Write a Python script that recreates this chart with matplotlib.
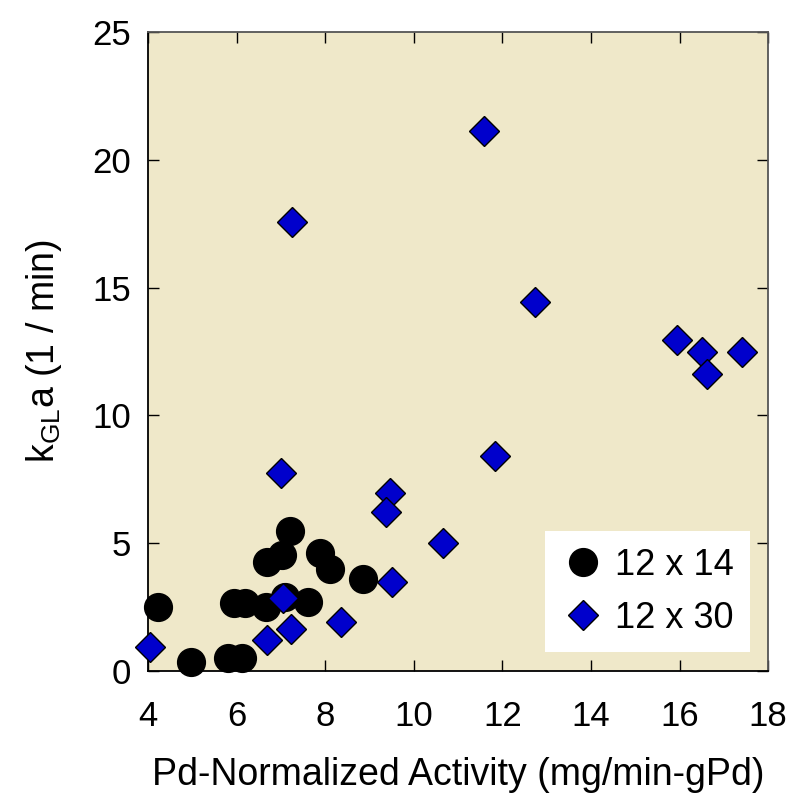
import matplotlib
matplotlib.use('Agg')
import matplotlib.pyplot as plt

plt.rcParams['font.family'] = ['Liberation Sans', 'DejaVu Sans']
plt.rcParams['mathtext.fontset'] = 'custom'
plt.rcParams['mathtext.rm'] = 'Liberation Sans'

## Data
act_14 = [4.23, 4.97, 5.81, 6.11, 5.93, 6.19, 6.66, 6.68, 7.02, 7.21, 7.09, 7.60, 7.88, 8.11, 8.86]
kga_14 = [2.51, 0.35, 0.50, 0.50, 2.67, 2.67, 2.51, 4.27, 4.54, 5.49, 2.88, 2.70, 4.60, 3.99, 3.60]

act_30 = [4.05, 7.00, 7.05, 7.22, 6.68, 8.35, 9.46, 9.37, 9.50, 11.83, 10.67,
          11.58, 12.74, 15.95, 16.50, 16.61, 17.41, 7.26]
kga_30 = [0.95, 7.74, 2.84, 1.66, 1.20, 1.90, 6.95, 6.24, 3.49, 8.42, 5.01,
          21.14, 14.43, 12.94, 12.46, 11.60, 12.47, 17.56]

labels = ['12 x 14', '12 x 30']
xticks = [4, 6, 8, 10, 12, 14, 16, 18]
yticks = [0, 5, 10, 15, 20, 25]

fig = plt.figure(figsize=(7.96, 7.93), dpi=100)
ax = fig.add_axes([0.186, 0.1538, 0.779, 0.806])
ax.set_facecolor('#efe8c9')

ax.plot(act_14, kga_14, 'o', ms=20, color='k', mec='k', label=labels[0],
        zorder=3, clip_on=False)
ax.plot(act_30, kga_30, 'D', ms=14.8, color='#0000cc', mec='k', mew=1, label=labels[1],
        zorder=4, clip_on=False)

ax.set_xlim(4, 18)
ax.set_ylim(0, 25)
ax.set_xticks(xticks)
ax.set_yticks(yticks)
ax.tick_params(direction='in', length=8, width=1, top=True, right=True, labelsize=25)
ax.tick_params(axis='x', pad=21)
ax.tick_params(axis='y', pad=12)
for s in ['top', 'right']:
    ax.spines[s].set_color('#555555')
for s in ax.spines.values():
    s.set_linewidth(1.3)

ax.set_xlabel('Pd-Normalized Activity (mg/min-gPd)', fontsize=27)
ax.set_ylabel(r'k$_\mathregular{GL}$a (1 / min)', fontsize=27)
ax.xaxis.set_label_coords(0.5, -0.135)
ax.yaxis.set_label_coords(-0.135, 0.5)

leg = ax.legend(loc='lower right', bbox_to_anchor=(0.971, 0.03), fontsize=26,
                frameon=True, fancybox=False, edgecolor='none', facecolor='white',
                framealpha=1, handletextpad=0.3, labelspacing=0.5, borderpad=0.45,
                handlelength=1.2, borderaxespad=0)
leg.set_zorder(5)

fig.savefig('out.png', dpi=100)
